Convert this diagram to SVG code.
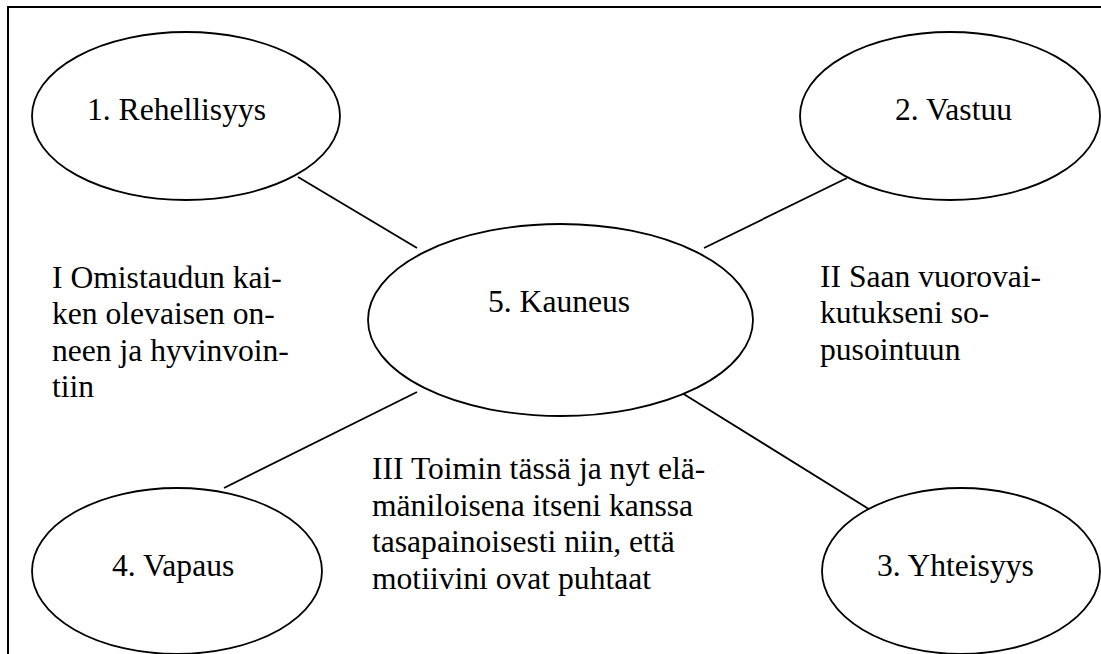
<svg xmlns="http://www.w3.org/2000/svg" width="1101" height="654" viewBox="0 0 1101 654">
<style>
.n{fill:#fff;stroke:#000;stroke-width:1.8}
.c line{stroke:#000;stroke-width:1.8}
.t{font-size:31.6px;fill:#000}
</style>
<rect x="0" y="0" width="1101" height="654" fill="#fff"/>
<path d="M8,660 V7 H1110" fill="none" stroke="#000" stroke-width="2"/>
<g id="connectors" class="c">
<line x1="298" y1="177" x2="417" y2="248"/>
<line x1="847" y1="178" x2="704" y2="248"/>
<line x1="417" y1="392" x2="224" y2="488"/>
<line x1="682" y1="393" x2="872" y2="511"/>
</g>
<g class="t" font-family="Liberation Serif, Times New Roman, Tinos, DejaVu Serif, serif">
<g id="n1"><ellipse class="n" cx="186" cy="116" rx="154" ry="84"/><text x="87" y="120">1. Rehellisyys</text></g>
<g id="n2"><ellipse class="n" cx="950" cy="116" rx="150" ry="84"/><text x="895" y="120">2. Vastuu</text></g>
<g id="n5"><ellipse class="n" cx="560.5" cy="320" rx="192.5" ry="96"/><text x="488" y="312">5. Kauneus</text></g>
<g id="n4"><ellipse class="n" cx="177" cy="571" rx="145" ry="83"/><text x="112" y="576">4. Vapaus</text></g>
<g id="n3"><ellipse class="n" cx="961" cy="571" rx="139" ry="83"/><text x="877" y="576">3. Yhteisyys</text></g>
<g id="labelI"><text x="52" y="288">I Omistaudun kai-</text><text x="52" y="324">ken olevaisen on-</text><text x="52" y="361">neen ja hyvinvoin-</text><text x="52" y="397">tiin</text></g>
<g id="labelII"><text x="820" y="287">II Saan vuorovai-</text><text x="820" y="323">kutukseni so-</text><text x="820" y="360">pusointuun</text></g>
<g id="labelIII"><text x="372" y="479">III Toimin tässä ja nyt elä-</text><text x="372" y="516">mäniloisena itseni kanssa</text><text x="372" y="552">tasapainoisesti niin, että</text><text x="372" y="589">motiivini ovat puhtaat</text></g>
</g>
</svg>
